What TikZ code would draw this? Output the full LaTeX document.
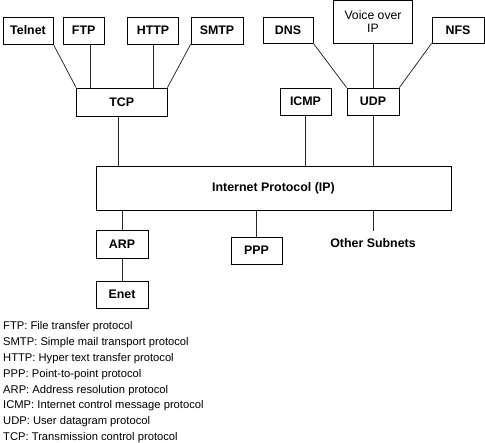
\documentclass[tikz,border=0pt]{standalone}
\usepackage{fontspec}
\setmainfont{Liberation Sans}
\usetikzlibrary{calc}
\begin{document}
\begin{tikzpicture}[x=1pt,y=-1pt,
  box/.style={draw=black, line width=0.75pt, inner sep=0pt, align=center,
    font=\bfseries\fontsize{12.4}{14}\selectfont},
  conn/.style={draw=black!85, line width=0.75pt},
  legend/.style={inner sep=0pt, font=\fontsize{11.2}{13}\selectfont}]
\useasboundingbox (0,0) rectangle (485,443);
% top row
\node[box, minimum width=50pt, minimum height=27pt] (telnet) at (28,30.5) {Telnet};
\node[box, minimum width=40.7pt, minimum height=27pt] (ftp) at (83.7,30.5) {FTP};
\node[box, minimum width=51pt, minimum height=27pt] (http) at (153,30.5) {HTTP};
\node[box, minimum width=52pt, minimum height=27pt] (smtp) at (217,30.5) {SMTP};
\node[box, minimum width=50pt, minimum height=26pt] (dns) at (288,30) {DNS};
\node[box, minimum width=79.4pt, minimum height=42.8pt,
  font=\fontsize{12.2}{13.5}\selectfont] (voice) at (373,21.6) {Voice over\\IP};
\node[box, minimum width=52pt, minimum height=26pt] (nfs) at (458,30) {NFS};
% transport
\node[box, minimum width=90.5pt, minimum height=28pt] (tcp) at (121.75,102) {TCP};
\node[box, minimum width=51pt, minimum height=27pt] (icmp) at (305.5,101.5) {ICMP};
\node[box, minimum width=52pt, minimum height=27pt] (udp) at (373,101.5) {UDP};
% IP
\node[box, minimum width=355pt, minimum height=44pt] (ip) at (273.5,188) {Internet Protocol (IP)};
% below
\node[box, minimum width=52pt, minimum height=28pt] (arp) at (122,244) {ARP};
\node[box, minimum width=52pt, minimum height=27pt] (enet) at (122,294.5) {Enet};
\node[box, minimum width=51pt, minimum height=27pt] (ppp) at (256.5,250.5) {PPP};
\node[inner sep=0pt, font=\bfseries\fontsize{12.4}{14}\selectfont] (other) at (373,243) {Other Subnets};
\coordinate (otherTop) at ($(other.center)+(0,-12.3)$);
% connectors
\draw[conn] (telnet.south east) -- (tcp.north west);
\coordinate (ftpA) at ($(ftp.south)+(6.3,0)$);
\draw[conn] (ftpA) -- (ftpA |- tcp.north);
\draw[conn] (http.south) -- (http.south |- tcp.north);
\draw[conn] (smtp.south west) -- (tcp.north east);
\draw[conn] (dns.south east) -- (udp.north west);
\draw[conn] (voice.south) -- (udp.north);
\draw[conn] (nfs.south west) -- (udp.north east);
\coordinate (tcpA) at ($(tcp.south)+(-3.5,0)$);
\draw[conn] (tcpA) -- (tcpA |- ip.north);
\draw[conn] (icmp.south) -- (icmp.south |- ip.north);
\draw[conn] (udp.south) -- (udp.south |- ip.north);
\draw[conn] (arp.north |- ip.south) -- (arp.north);
\draw[conn] (arp.south) -- (enet.north);
\draw[conn] (ppp.north |- ip.south) -- (ppp.north);
\draw[conn] (otherTop |- ip.south) -- (otherTop);
% legend
\foreach [count=\i] \t in {FTP: File transfer protocol,
  SMTP: Simple mail transport protocol,
  HTTP: Hyper text transfer protocol,
  PPP: Point-to-point protocol,
  ARP: Address resolution protocol,
  ICMP: Internet control message protocol,
  UDP: User datagram protocol,
  TCP: Transmission control protocol}
  \node[legend, anchor=base west] (leg\i) at (3,{330+(\i-1)*15.8}) {\t};
\end{tikzpicture}
\end{document}
